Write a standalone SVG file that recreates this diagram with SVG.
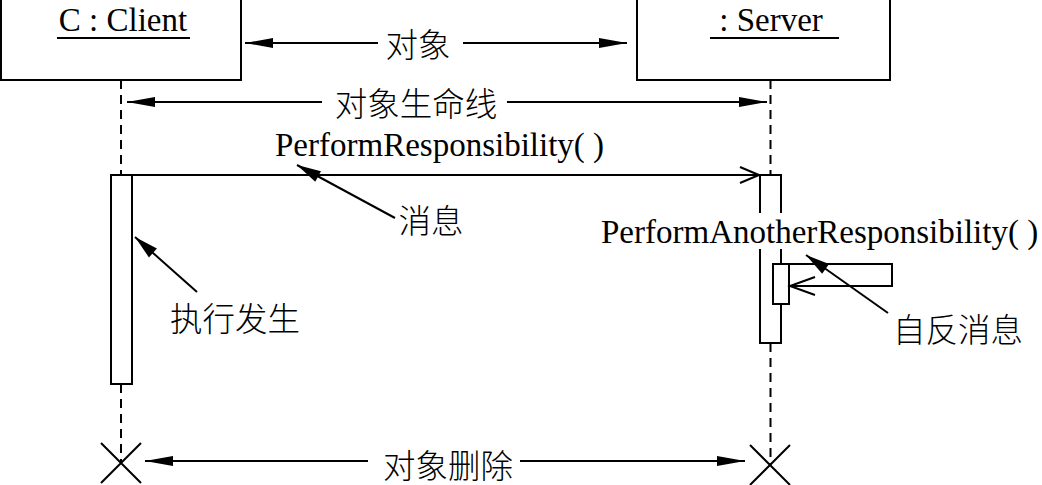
<svg xmlns="http://www.w3.org/2000/svg" width="1042" height="485" viewBox="0 0 1042 485">
<style>
.box{fill:#fff;stroke:#000;stroke-width:2}
.ln{fill:none;stroke:#000;stroke-width:2}
.dash{fill:none;stroke:#000;stroke-width:2;stroke-dasharray:9 6}
.lat{font-family:"Liberation Serif","Times New Roman",serif;font-size:33px;fill:#000}
.cjk{font-family:"Noto Sans CJK SC","Noto Sans",sans-serif;font-size:32.5px;font-weight:300;fill:#000;dominant-baseline:central;text-anchor:middle}
</style>
<defs>
<marker id="tri" markerUnits="userSpaceOnUse" markerWidth="28" markerHeight="10" refX="28" refY="5" orient="auto" overflow="visible">
<path d="M0,0 L28,5 L0,10 z" fill="#000"/>
</marker>
<marker id="tri2" markerUnits="userSpaceOnUse" markerWidth="24" markerHeight="12" refX="24" refY="6" orient="auto" overflow="visible">
<path d="M0,0 L24,6 L0,12 z" fill="#000"/>
</marker>
</defs>
<rect width="1042" height="485" fill="#fff"/>

<g id="lifelines">
<line class="dash" x1="121" y1="80" x2="121" y2="175"/>
<line class="dash" x1="121" y1="384" x2="121" y2="463"/>
<line class="dash" x1="770.5" y1="80" x2="770.5" y2="175"/>
<line class="dash" x1="770.5" y1="343" x2="770.5" y2="465"/>
</g>

<g id="client">
<rect class="box" x="1" y="-5" width="240" height="85"/>
<text class="lat" x="123" y="31" text-anchor="middle">C : Client</text>
<line class="ln" x1="57" y1="38" x2="190" y2="38"/>
</g>

<g id="server">
<rect class="box" x="637" y="-5" width="253" height="85"/>
<text class="lat" x="771" y="31" text-anchor="middle">: Server</text>
<line class="ln" x1="710" y1="38" x2="839" y2="38"/>
</g>

<g id="client-activation">
<rect class="box" x="111" y="175" width="21" height="209"/>
</g>

<g id="server-activation">
<rect class="box" x="760" y="175" width="21" height="168"/>
<rect class="box" x="773" y="264" width="16" height="40"/>
</g>

<g id="client-destroy">
<path class="ln" d="M101,443 L141,483 M141,443 L101,483"/>
</g>
<g id="server-destroy">
<path class="ln" d="M750,445 L790,485 M790,445 L750,485"/>
</g>

<g id="connectors">
<line class="ln" x1="132" y1="175" x2="759" y2="175" stroke-width="1.6"/>
<path class="ln" d="M740,167 L759,175 L740,183" stroke-width="1.6"/>
<path class="ln" d="M789,264 H892 V286 H790" stroke-width="1.6"/>
<path class="ln" d="M815,277 L790,286 L815,295" stroke-width="1.6"/>
</g>

<g id="labels">
<text class="lat" x="275" y="156">PerformResponsibility( )</text>
<rect x="598" y="213" width="444" height="36" fill="#fff"/>
<text class="lat" x="601" y="243">PerformAnotherResponsibility( )</text>
</g>

<g id="annotations">
<line class="ln" x1="378" y1="43" x2="245" y2="43" marker-end="url(#tri)"/>
<line class="ln" x1="463" y1="43" x2="627" y2="43" marker-end="url(#tri)"/>
<text class="cjk" x="418" y="42">对象</text>

<line class="ln" x1="322" y1="102" x2="127" y2="102" marker-end="url(#tri)"/>
<line class="ln" x1="507" y1="102" x2="767" y2="102" marker-end="url(#tri)"/>
<text class="cjk" x="416" y="101">对象生命线</text>

<line class="ln" x1="368" y1="461" x2="145" y2="461" marker-end="url(#tri)"/>
<line class="ln" x1="520" y1="461" x2="745" y2="461" marker-end="url(#tri)"/>
<text class="cjk" x="448" y="463">对象删除</text>

<line class="ln" x1="395" y1="218" x2="297" y2="165" marker-end="url(#tri2)"/>
<text class="cjk" x="431" y="218">消息</text>

<line class="ln" x1="197" y1="292" x2="135" y2="237" marker-end="url(#tri2)"/>
<text class="cjk" x="235" y="316">执行发生</text>

<line class="ln" x1="888" y1="313" x2="806" y2="255" marker-end="url(#tri2)"/>
<text class="cjk" x="958" y="327">自反消息</text>
</g>
</svg>
